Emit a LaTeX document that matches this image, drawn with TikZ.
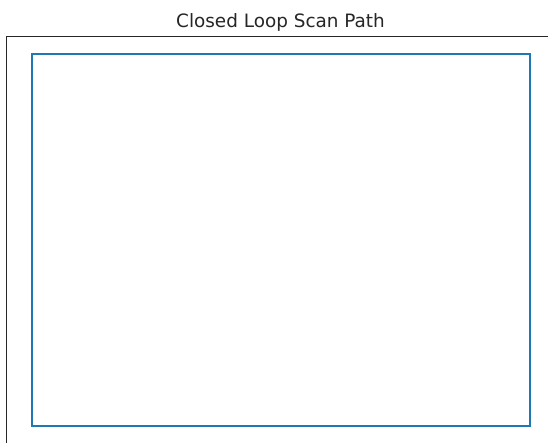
\documentclass[tikz,border=0pt]{standalone}
\usepackage{fontspec}
\setmainfont{DejaVu Sans}
\definecolor{tabblue}{HTML}{1F77B4}
\begin{document}
\begin{tikzpicture}[x=1pt,y=-1pt,
  frame/.style={draw=black!85,line width=0.9pt},
  pathline/.style={draw=tabblue,line width=2pt,line join=miter},
  titletext/.style={font=\fontsize{18.4}{22}\selectfont,inner sep=0pt,anchor=base,text=black!85}]
\useasboundingbox (0,0) rectangle (548,443);
\coordinate (fa) at (6,450);
\coordinate (fb) at (6,36);
\coordinate (fc) at (560,36);
\draw[frame] (fa) -- (fb) -- (fc);
\coordinate (p1) at (31.5,54);
\coordinate (p2) at (529.5,54);
\coordinate (p3) at (529.5,425.5);
\coordinate (p4) at (31.5,425.5);
\draw[pathline] (p1) -- (p2) -- (p3) -- (p4) -- cycle;
\node[titletext] (title) at (280.5,28) {Closed Loop Scan Path};
\end{tikzpicture}
\end{document}
